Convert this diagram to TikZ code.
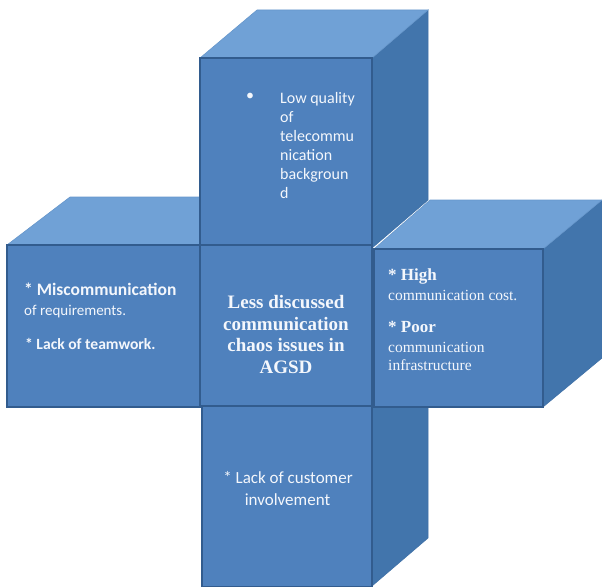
\documentclass[tikz,border=0pt]{standalone}
\usepackage{fontspec}
\setmainfont{Carlito}
\newfontfamily\seriffont{Liberation Serif}
\definecolor{frontc}{RGB}{79,129,189}
\definecolor{topc}{RGB}{112,161,214}
\definecolor{sidec}{RGB}{66,117,172}
\definecolor{edgec}{RGB}{50,92,142}
\definecolor{txtc}{RGB}{244,247,252}
\begin{document}
\begin{tikzpicture}[x=1pt,y=-1pt,
  front/.style={fill=frontc,draw=edgec,line width=1.2pt},
  topface/.style={fill=topc,draw=topc!85!edgec,line width=0.6pt},
  sideface/.style={fill=sidec,draw=sidec!85!edgec,line width=0.6pt},
  txt/.style={text=txtc,inner sep=0pt},
  sansA/.style={txt,font=\fontsize{16}{19}\selectfont},
  sansB/.style={txt,font=\bfseries\fontsize{17.5}{21}\selectfont},
  sansC/.style={txt,font=\fontsize{15}{18}\selectfont},
  sansD/.style={txt,font=\bfseries\fontsize{15.6}{18}\selectfont},
  sansE/.style={txt,font=\fontsize{17}{22}\selectfont},
  serB/.style={txt,font=\seriffont\bfseries\fontsize{17}{20}\selectfont},
  serR/.style={txt,font=\seriffont\fontsize{15.5}{18}\selectfont},
  serC/.style={txt,font=\seriffont\bfseries\fontsize{19}{21.5}\selectfont}]
\useasboundingbox (0,0) rectangle (602,586);
% back faces
\path[sideface] (372,58) -- (428,10) -- (428,200) -- (372,248) -- cycle;
\path[topface] (200,58) -- (257,10) -- (428,10) -- (372,58) -- cycle;
\path[topface] (7,245) -- (70,197) -- (200,197) -- (200,245) -- cycle;
\path[sideface] (543,249) -- (602,200) -- (602,358) -- (543,407) -- cycle;
\path[sideface] (372,406) -- (428,358) -- (428,538) -- (372,586) -- cycle;
\path[topface] (374,249) -- (430,200) -- (602,200) -- (543,249) -- cycle;
% front faces
\path[front] (200,58) rectangle (372,245);
\path[front] (7,245) rectangle (200,407);
\path[front] (200,245) rectangle (372,406);
\path[front] (202,406) rectangle (372,587);
\path[front] (374,249) rectangle (543,407);
% top cube text
\node[sansA] (topbullet) at (250,97) {•};
\node[sansA,anchor=west,align=left] (toptext) at (280,145)
  {Low quality\\of\\telecommu\\nication\\backgroun\\d};
% left cube text
\node[sansB,anchor=base west] (left1) at (24,295) {* Miscommunication};
\node[sansC,anchor=base west] (left2) at (24,315) {of requirements.};
\node[sansD,anchor=base west] (left3) at (25,349) {* Lack of teamwork.};
% centre text
\node[serC,align=center] (centre) at (286,334.5)
  {Less discussed\\communication\\chaos issues in\\AGSD};
% right cube text
\node[serB,anchor=base west] (right1) at (388,280) {* High};
\node[serR,anchor=base west] (right2) at (388,300.5) {communication cost.};
\node[serB,anchor=base west] (right3) at (388,332.5) {* Poor};
\node[serR,anchor=base west] (right4) at (388,352) {communication};
\node[serR,anchor=base west] (right5) at (388,370.5) {infrastructure};
% bottom cube text
\node[sansE,anchor=base] (bottom1) at (288,483) {* Lack of customer};
\node[sansE,anchor=base] (bottom2) at (287.5,505.5) {involvement};
\end{tikzpicture}
\end{document}
